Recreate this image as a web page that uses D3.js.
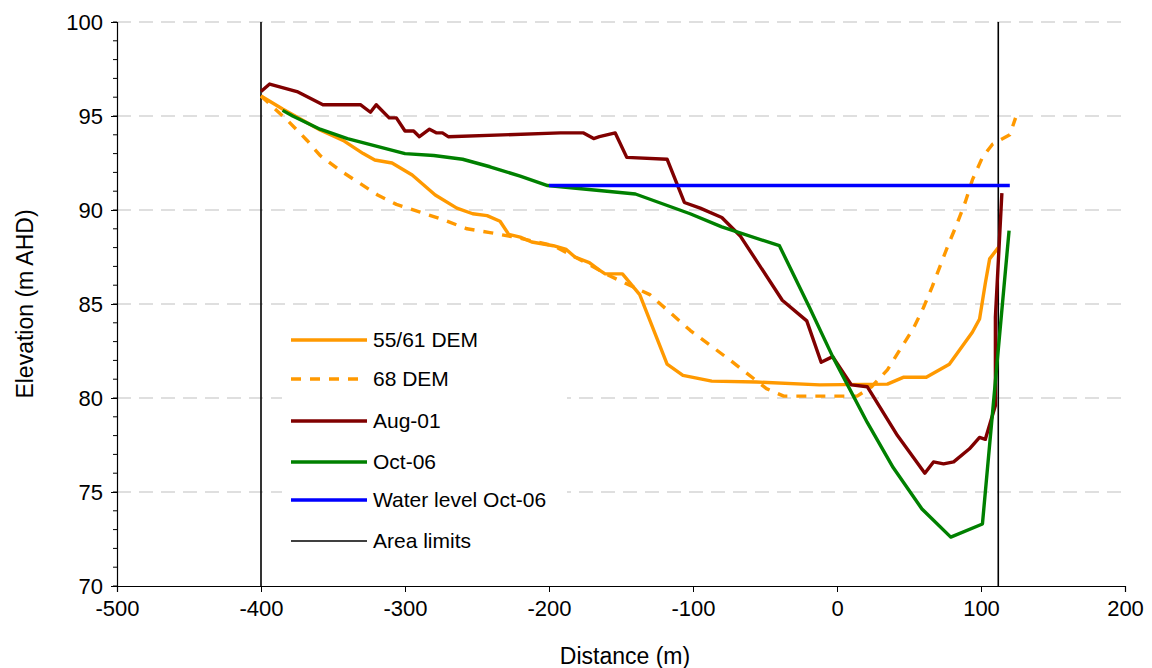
<!DOCTYPE html>
<html>
<head>
<meta charset="utf-8">
<script src="https://cdn.jsdelivr.net/npm/d3@7"></script>
<style>
  body { margin: 0; background: #fff; }
  text { font-family: "Liberation Sans", Arial, sans-serif; }
</style>
</head>
<body>
<svg id="chart" width="1152" height="668"></svg>
<script>
// Series data: [distance (m), elevation (m AHD)]
const dem5561 = [[-400,96.06],[-385,95.37],[-359,94.26],[-343,93.7],[-329,93.0],[-321,92.66],[-309,92.5],[-295,91.86],[-279,90.8],[-264,90.1],[-253,89.8],[-243,89.7],[-234,89.4],[-228,88.7],[-220,88.56],[-212,88.3],[-197,88.1],[-188,87.9],[-182,87.5],[-172,87.2],[-165,86.8],[-161,86.6],[-149,86.6],[-137,85.5],[-118,81.8],[-107,81.2],[-87,80.9],[-56,80.85],[-12,80.7],[35,80.74],[46,81.1],[62,81.1],[78,81.8],[94,83.5],[99,84.2],[103,86.1],[106,87.4],[112,88.0]];
const dem68 = [[-400,96.06],[-382,94.8],[-368,93.7],[-359,92.9],[-345,92.1],[-331,91.4],[-319,90.8],[-306,90.3],[-290,89.9],[-274,89.5],[-257,89.0],[-241,88.8],[-220,88.5],[-197,88.1],[-182,87.5],[-165,86.8],[-158,86.5],[-130,85.5],[-102,83.6],[-74,82.0],[-49,80.5],[-37,80.1],[14,80.1],[24,80.6],[35,81.5],[44,82.6],[53,83.7],[60,84.8],[66,85.9],[72,87.1],[77,88.1],[83,89.2],[89,90.4],[94,91.6],[101,92.8],[108,93.5],[120,94.0],[124,94.9]];
const aug01 = [[-400,96.3],[-394,96.7],[-375,96.3],[-357,95.6],[-331,95.6],[-324,95.2],[-320,95.6],[-311,94.9],[-306,94.9],[-300,94.2],[-294,94.2],[-290,93.9],[-283,94.3],[-278,94.1],[-274,94.1],[-270,93.9],[-192,94.1],[-176,94.1],[-169,93.8],[-165,93.9],[-154,94.1],[-146,92.8],[-118,92.7],[-106,90.4],[-95,90.1],[-80,89.6],[-67,88.6],[-38,85.2],[-21,84.1],[-11,81.9],[-3,82.2],[10,80.7],[21,80.6],[42,78.0],[61,76.0],[67,76.6],[74,76.5],[81,76.6],[92,77.3],[99,77.9],[103,77.8],[110,79.6],[110,82.4],[110,84.3],[114.5,90.9]];
const oct06 = [[-385,95.3],[-378,95.0],[-359,94.3],[-340,93.8],[-320,93.4],[-300,93.0],[-280,92.9],[-260,92.7],[-241,92.3],[-220,91.8],[-201,91.3],[-140,90.85],[-102,89.8],[-80,89.1],[-40,88.1],[-19,84.8],[-3,82.2],[21,78.7],[39,76.3],[59,74.1],[79,72.6],[101,73.3],[119.5,88.9]];
const waterOct06 = [[-200,91.3],[120,91.3]];
const areaLimits = [-400, 112];

const xTicks = [-500, -400, -300, -200, -100, 0, 100, 200];
const yTicks = [70, 75, 80, 85, 90, 95, 100];

const series = [
  { name: "55/61 DEM", data: dem5561, color: "#ff9900", dash: null },
  { name: "68 DEM", data: dem68, color: "#ff9900", dash: "10,9" },
  { name: "Aug-01", data: aug01, color: "#800000", dash: null },
  { name: "Oct-06", data: oct06, color: "#008000", dash: null },
  { name: "Water level Oct-06", data: waterOct06, color: "#0000ff", dash: null },
];

const fmt = (d) => String(d); // plain hyphen minus, as in the original

const svg = d3.select("#chart");
const x = d3.scaleLinear().domain([-500, 200]).range([117, 1125]);
const y = d3.scaleLinear().domain([70, 100]).range([586, 22]);

// Gridlines
svg.append("g")
  .selectAll("line")
  .data(yTicks.filter((t) => t > 70))
  .join("line")
  .attr("x1", x(-500)).attr("x2", x(200))
  .attr("y1", (d) => y(d)).attr("y2", (d) => y(d))
  .attr("stroke", "#c0c0c0").attr("stroke-width", 1.2)
  .attr("stroke-dasharray", "14,8");

// Axes
const yAxis = svg.append("g")
  .attr("transform", `translate(${x(-500)},0)`)
  .call(d3.axisLeft(y).tickValues(yTicks).tickSize(6).tickPadding(8).tickFormat(fmt));
yAxis.selectAll("text").attr("font-size", 22).attr("fill", "#000");
// Minor ticks
svg.append("g").selectAll("line")
  .data(d3.range(70, 101, 1))
  .join("line")
  .attr("x1", x(-500) - 4).attr("x2", x(-500))
  .attr("y1", (d) => y(d)).attr("y2", (d) => y(d))
  .attr("stroke", "#000");

const xAxis = svg.append("g")
  .attr("transform", `translate(0,${y(70)})`)
  .call(d3.axisBottom(x).tickValues(xTicks).tickSize(6).tickPadding(8).tickFormat(fmt));
xAxis.selectAll("text").attr("font-size", 22).attr("fill", "#000");
svg.selectAll(".domain").attr("stroke", "#000").attr("stroke-width", 1.2);

svg.append("text")
  .attr("x", 625).attr("y", 664)
  .attr("text-anchor", "middle").attr("font-size", 23)
  .text("Distance (m)");
svg.append("text")
  .attr("transform", `translate(33,${y(85)}) rotate(-90)`)
  .attr("text-anchor", "middle").attr("font-size", 23)
  .text("Elevation (m AHD)");

// Legend background
svg.append("rect")
  .attr("x", 282).attr("y", 322).attr("width", 285).attr("height", 238)
  .attr("fill", "#fff");

// Area limits
svg.append("g").selectAll("line")
  .data(areaLimits)
  .join("line")
  .attr("x1", (d) => x(d)).attr("x2", (d) => x(d))
  .attr("y1", y(70)).attr("y2", y(100))
  .attr("stroke", "#000").attr("stroke-width", 1.6);

const line = d3.line().x((d) => x(d[0])).y((d) => y(d[1]));

svg.append("g")
  .selectAll("path")
  .data(series)
  .join("path")
  .attr("d", (d) => line(d.data))
  .attr("fill", "none")
  .attr("stroke", (d) => d.color)
  .attr("stroke-width", 3.4)
  .attr("stroke-linejoin", "round")
  .attr("stroke-dasharray", (d) => d.dash);

// Legend
const legendItems = series.map((s) => ({ name: s.name, color: s.color, dash: s.dash, w: 3.4 }))
  .concat([{ name: "Area limits", color: "#000", dash: null, w: 1.4 }]);
const legendY = [340, 379, 421, 462, 500, 541];
const legend = svg.append("g")
  .selectAll("g")
  .data(legendItems)
  .join("g")
  .attr("transform", (d, i) => `translate(291,${legendY[i]})`);
legend.append("line")
  .attr("x1", 0).attr("x2", 76)
  .attr("stroke", (d) => d.color)
  .attr("stroke-width", (d) => d.w)
  .attr("stroke-dasharray", (d) => d.dash);
legend.append("text")
  .attr("x", 82).attr("dy", "0.35em")
  .attr("font-size", 21)
  .text((d) => d.name);
</script>
</body>
</html>
